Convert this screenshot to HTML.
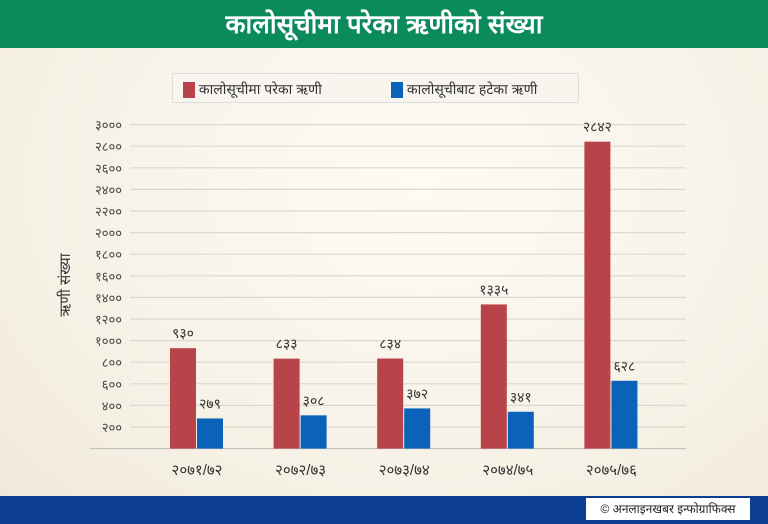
<!DOCTYPE html>
<html><head><meta charset="utf-8"><style>
body{margin:0;width:768px;height:524px;overflow:hidden;font-family:"Liberation Sans",sans-serif;background:radial-gradient(ellipse at 55% 35%,#fdfbf4 0%,#f5f0e4 70%,#efe8d8 100%);position:relative}
#hdr{position:absolute;left:0;top:0;width:768px;height:48px;background:#0b8a5c;color:#fff;font-size:26px;font-weight:bold;text-align:center;line-height:48px}
#ftr{position:absolute;left:0;top:496px;width:768px;height:28px;background:#0b3d91}
#logo{position:absolute;left:586px;top:498px;width:164px;height:22px;background:#fff;font-size:12px;line-height:22px;text-align:center;color:#222}
#legend{position:absolute;left:172px;top:73px;width:405px;height:28px;border:1px solid #ddd;background:#f8f5ee;font-size:14px;color:#333}
</style></head><body>
<div id="hdr">कालोसूचीमा परेका ऋणीको संख्या</div>
<div id="legend">
<span style="position:absolute;left:10px;top:6px"><span style="display:inline-block;width:12px;height:16px;background:#b9434a;vertical-align:middle"></span> कालोसूचीमा परेका ऋणी</span>
<span style="position:absolute;left:218px;top:6px"><span style="display:inline-block;width:12px;height:16px;background:#0b63b9;vertical-align:middle"></span> कालोसूचीबाट हटेका ऋणी</span>
</div>
<svg id="chart" width="768" height="524" style="position:absolute;left:0;top:0"></svg>
<div id="ftr"></div>
<div id="logo">© अनलाइनखबर इन्फोग्राफिक्स</div>
<script>
const categories=["२०७१/७२","२०७२/७३","२०७३/७४","२०७४/७५","२०७५/७६"];
const listed=[930,833,834,1335,2842];
const removed=[279,308,372,341,628];
const listedLabels=["९३०","८३३","८३४","१३३५","२८४२"];
const removedLabels=["२७९","३०८","३७२","३४१","६२८"];
const yTicks=[200,400,600,800,1000,1200,1400,1600,1800,2000,2200,2400,2600,2800,3000];
const yTickLabels=["२००","४००","६००","८००","१०००","१२००","१४००","१६००","१८००","२०००","२२००","२४००","२६००","२८००","३०००"];
const svg=document.getElementById('chart');const NS='http://www.w3.org/2000/svg';
const y=v=>448.6-v*0.108;
const gx=i=>170+i*103.6;
function mk(t,a){const e=document.createElementNS(NS,t);for(const k in a)e.setAttribute(k,a[k]);svg.appendChild(e);return e;}
let b=mk('line',{x1:90,x2:686,y1:y(0),y2:y(0),stroke:'#bbb','stroke-width':1});


yTicks.forEach((v,i)=>{
 const l=mk('line',{x1:130,x2:686,y1:y(v),y2:y(v),stroke:'#dcd8cf','stroke-width':1.2});
 
 
 const t=mk('text',{x:122,y:y(v)+5,'text-anchor':'end','font-size':13,fill:'#444'});t.textContent=yTickLabels[i];
 
 
});
const yt=mk('text',{x:0,y:0,transform:'translate(70,285) rotate(-90)','text-anchor':'middle','font-size':15,fill:'#333'});yt.textContent='ऋणी संख्या';


categories.forEach((c,i)=>{
 const x=gx(i);
 const r=mk('rect',{x:x,y:y(listed[i]),width:26,height:y(0)-y(listed[i]),fill:'#b9434a'});
 
 
 const bl=mk('rect',{x:x+27,y:y(removed[i]),width:26,height:y(0)-y(removed[i]),fill:'#0b63b9'});
 
 
 const t1=mk('text',{x:x+13,y:y(listed[i])-10,'text-anchor':'middle','font-size':14,fill:'#333'});t1.textContent=listedLabels[i];
 
 
 const t2=mk('text',{x:x+40,y:y(removed[i])-10,'text-anchor':'middle','font-size':14,fill:'#333'});t2.textContent=removedLabels[i];
 
 
 const t3=mk('text',{x:x+27,y:475,'text-anchor':'middle','font-size':15,fill:'#333'});t3.textContent=c;
 
 
});
</script>
</body></html>
